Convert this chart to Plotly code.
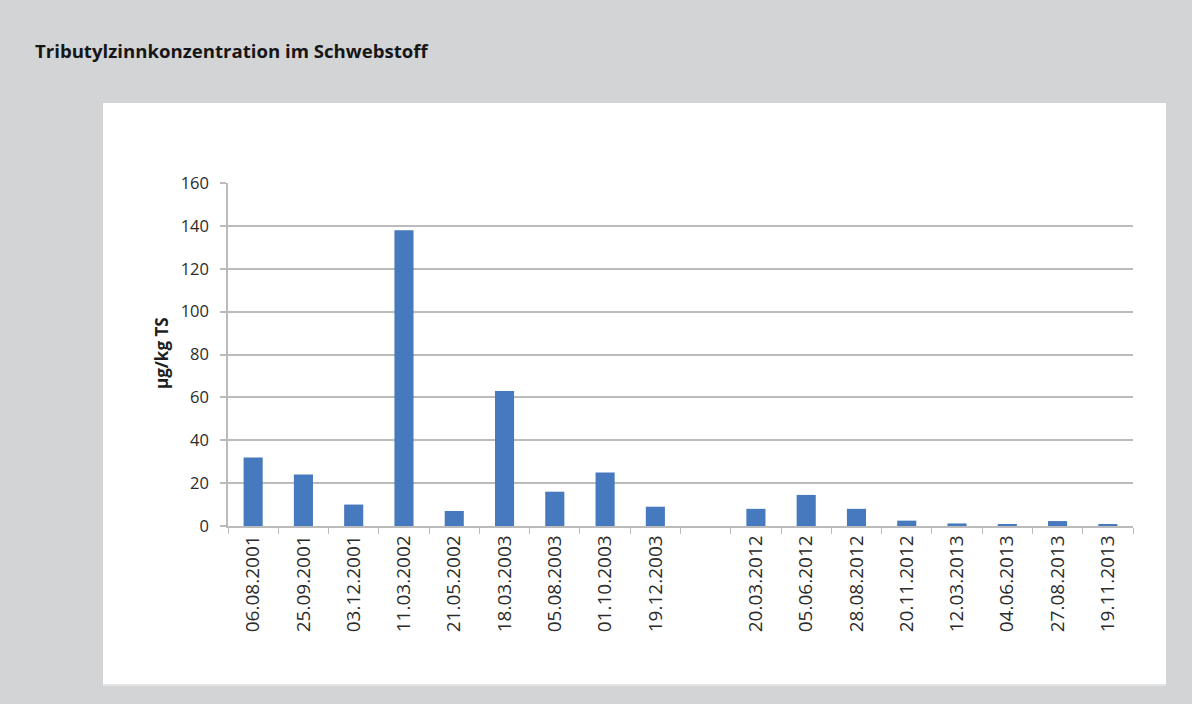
import plotly.graph_objects as go

# Sampling dates (the blank entry separates the 2001-2003 and 2012-2013 campaigns)
dates = [
    "06.08.2001", "25.09.2001", "03.12.2001", "11.03.2002", "21.05.2002",
    "18.03.2003", "05.08.2003", "01.10.2003", "19.12.2003", " ",
    "20.03.2012", "05.06.2012", "28.08.2012", "20.11.2012", "12.03.2013",
    "04.06.2013", "27.08.2013", "19.11.2013",
]
# Tributyltin concentration in suspended matter, µg/kg dry substance
tbt = [32, 24, 10, 138, 7, 63, 16, 25, 9, None, 8, 14.5, 8, 2.5, 1.2, 0.6, 2.3, 0.5]

y_ticks = [0, 20, 40, 60, 80, 100, 120, 140, 160]

W, H = 1192, 704
L, R, T, B = 228, 59, 183, 178
pw, ph = W - L - R, H - T - B

BLUE = "#4679bd"
GRID = "#bbbbbb"
PAGE = "#d3d4d6"
FONT = "Open Sans"


def px_x(x):
    return (x - L) / pw


def px_y(y):
    return (H - B - y) / ph


fig = go.Figure(
    go.Bar(x=dates, y=tbt, marker=dict(color=BLUE, line=dict(width=0)))
)

fig.update_layout(
    width=W,
    height=H,
    margin=dict(l=L, r=R, t=T, b=B),
    paper_bgcolor=PAGE,
    plot_bgcolor="white",
    bargap=0.62,
    showlegend=False,
    font=dict(family=FONT, color="#2b2b2b"),
    title=dict(
        text="<b>Tributylzinnkonzentration im Schwebstoff</b>",
        font=dict(family=FONT, size=18.6, color="#161616"),
        xref="container", yref="container",
        x=35 / W, xanchor="left",
        y=1 - 51 / H, yanchor="middle",
    ),
    shapes=[
        # white chart panel
        dict(type="rect", xref="paper", yref="paper", layer="below",
             x0=px_x(103), x1=px_x(1166), y0=px_y(685), y1=px_y(103),
             fillcolor="white", line=dict(width=0)),
        # soft edge under the panel
        dict(type="line", xref="paper", yref="paper", layer="below",
             x0=px_x(103), x1=px_x(1166), y0=px_y(685), y1=px_y(685),
             line=dict(color="#e2e3e5", width=2)),
    ],
    annotations=[
        dict(text="<b>µg/kg TS</b>", xref="paper", yref="paper",
             x=px_x(161), y=px_y(353), textangle=-90, showarrow=False,
             xanchor="center", yanchor="middle",
             font=dict(family=FONT, size=17, color="#1e1e1e")),
    ],
)

fig.update_xaxes(
    type="category",
    categoryorder="array",
    categoryarray=dates,
    tickangle=-90,
    tickfont=dict(family=FONT, size=19, color="#2b2b2b"),
    showline=True, linecolor=GRID, linewidth=1.5,
    ticks="outside", tickson="boundaries", ticklen=6,
    tickcolor=GRID, tickwidth=1.2,
    showgrid=False,
)

fig.update_yaxes(
    range=[0, 160],
    tickvals=y_ticks,
    tickfont=dict(family=FONT, size=16.5, color="#2b2b2b"),
    showline=True, linecolor=GRID, linewidth=1.5,
    ticks="outside", ticklen=6, tickcolor=GRID, tickwidth=1.5,
    ticklabelstandoff=8,
    showgrid=True, gridcolor=GRID, gridwidth=1.6,
    zeroline=False,
)

fig.write_html("out.html")
